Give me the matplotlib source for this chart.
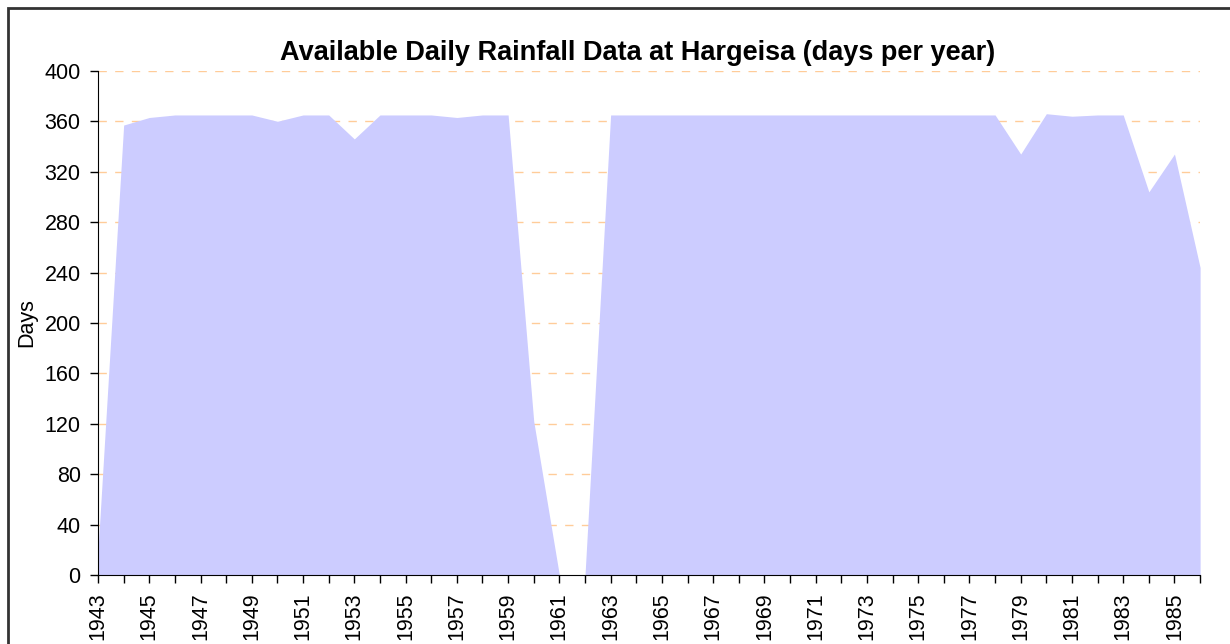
import numpy as np
import matplotlib.pyplot as plt
from matplotlib.patches import Rectangle

plt.rcParams['font.family'] = ['Liberation Sans', 'DejaVu Sans']

# data
years = list(range(1943, 1987))
days = [20, 357, 363, 365, 365, 365, 365, 360, 365, 365,
        346, 365, 365, 365, 363, 365, 365, 122, 0, 0,
        365, 365, 365, 365, 365, 365, 365, 365, 365, 365,
        365, 365, 365, 365, 365, 365, 334, 366, 364, 365,
        365, 304, 334, 244]
yticks = list(range(0, 401, 40))

fig = plt.figure(figsize=(12.3, 6.44), dpi=100)
ax = fig.add_axes([0.0797, 0.107, 0.896, 0.783])

# outer chart frame
fig.patches.append(Rectangle((8 / 1230, -0.1), 1.2, 1 - 8 / 644 + 0.1,
                             transform=fig.transFigure, fill=False,
                             edgecolor='#333333', linewidth=2))

ax.fill_between(years, days, 0, color='#CCCCFF', linewidth=0, zorder=2)

ax.set_xlim(1943, 1986)
ax.set_ylim(0, 400)
ax.set_yticks(yticks)
ax.set_xticks(years)
ax.set_xticklabels([str(y) if (y - 1943) % 2 == 0 else '' for y in years],
                   rotation=90)
ax.tick_params(axis='both', labelsize=15.5, direction='out', length=5.5,
               width=1, color='black', pad=7)

for y in yticks[1:]:
    ax.axhline(y, color='#FFCC99', linestyle=(0, (6, 6)), linewidth=1, zorder=1)

for s in ['top', 'right']:
    ax.spines[s].set_visible(False)
ax.spines['left'].set_color('black')
ax.spines['bottom'].set_color('black')
ax.spines['left'].set_zorder(3)
ax.spines['bottom'].set_zorder(3)

ax.set_ylabel('Days', fontsize=15.5, labelpad=5)
ax.set_title('Available Daily Rainfall Data at Hargeisa (days per year)',
             fontsize=19.5, fontweight='bold', pad=8, x=0.49)

fig.savefig('out.png', dpi=100)
